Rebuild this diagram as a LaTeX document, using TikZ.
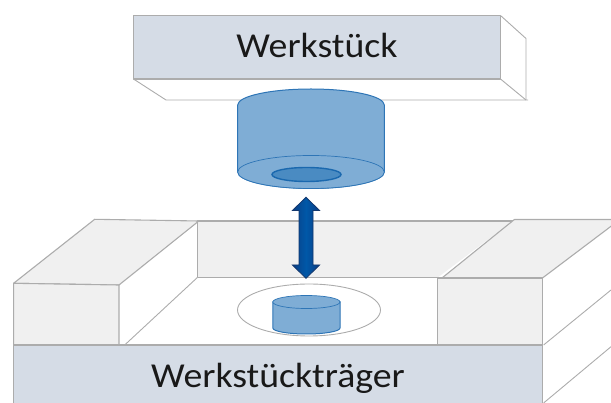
\documentclass[tikz,border=0pt]{standalone}
\usepackage{graphicx}
\usepackage{fontspec}
\setmainfont{Carlito}
\definecolor{slab}{HTML}{D5DCE6}
\definecolor{wall}{HTML}{F0F0F0}
\definecolor{edge}{HTML}{ACACAC}
\definecolor{cyl}{HTML}{7FADD5}
\definecolor{cyledge}{HTML}{2E75B6}
\definecolor{hole}{HTML}{4A8BC2}
\definecolor{holeedge}{HTML}{1A68AE}
\definecolor{arrowdark}{HTML}{0A3F86}
\definecolor{arrowmid}{HTML}{0058A8}
\definecolor{arrowedge}{HTML}{14386E}
\tikzset{
  solid part/.style={draw=edge,line width=1.1pt,line join=round},
  thin part/.style={draw=edge,line width=0.9pt},
  cyl part/.style={draw=cyledge,fill=cyl,line width=1pt},
  label text/.style={font=\fontsize{35}{38}\selectfont,text=black!90,inner sep=0pt}
}
\begin{document}
\begin{tikzpicture}[x=1pt,y=-1pt]
\useasboundingbox (0,0) rectangle (611,403);
\begin{scope}
\clip (0,0) rectangle (611,403);
% upper workpiece
\draw[thin part] (133.5,79) -- (166,100) -- (528,100);
\draw[thin part] (500.5,15.5) -- (526,38.5) -- (526,100);
\draw[thin part] (500.5,79) -- (526,100);
\draw[solid part,fill=slab] (133.5,15.5) rectangle (500.5,79);
\node[label text,anchor=base] (top label) at (317,57.5) {\scalebox{1.08}[1]{Werkstück}};
% large cylinder
\path[cyl part] (237.7,105) arc[start angle=180,end angle=360,x radius=73.3,y radius=16]
  -- (384.3,172) arc[start angle=0,end angle=-180,x radius=73.3,y radius=-16.5] -- cycle;
\draw[cyl part,line width=0.7pt] (311,172) ellipse[x radius=73.3,y radius=16.5];
\draw[draw=holeedge,fill=hole,line width=1.4pt] (306.5,174.5) ellipse[x radius=34.5,y radius=7];
% lower carrier: back wall
\fill[wall] (197.6,277.3) -- (197.6,221) -- (512.5,221) -- (438,277.3) -- cycle;
\draw[solid part] (197.6,277.3) -- (197.6,221) -- (512.5,221);
\draw[thin part] (124.7,345) -- (197.6,277.3);
% left block
\draw[solid part,fill=wall] (13.6,283.3) -- (94.7,219.3) -- (198.8,221) -- (119,285) -- cycle;
\draw[solid part,fill=wall] (13.6,283.3) -- (119,285) -- (119,345) -- (13.6,345) -- cycle;
% right block
\draw[solid part,fill=wall] (442,278) -- (514.4,219.5) -- (620,219.5) -- (542.5,278) -- cycle;
\draw[solid part,fill=wall] (437.3,278) -- (542.5,278) -- (542.5,345) -- (437.3,345) -- cycle;
\draw[thin part] (197.6,277.3) -- (442,277.3);
\draw[thin part] (543.6,345) -- (611,290);
\draw[thin part] (543.6,403) -- (611,346.7);
% seat
\draw[thin part,fill=white] (309,310) ellipse[x radius=71.5,y radius=26];
% small cylinder
\path[cyl part] (272.8,302) -- (272.8,328) arc[start angle=180,end angle=360,x radius=33.6,y radius=-6] -- (340,302) -- cycle;
\draw[cyl part,line width=0.7pt] (306.4,302) ellipse[x radius=33.6,y radius=6.5];
% motion arrow
\path[draw=arrowedge,line width=0.8pt,left color=arrowdark,right color=arrowdark,middle color=arrowmid,line join=miter]
  (306,197.3) -- (319.6,210.5) -- (313,210.5) -- (313,265) -- (319.6,265) -- (306,278.3) -- (292.4,265) -- (299,265) -- (299,210.5) -- (292.4,210.5) -- cycle;
% base slab
\draw[solid part,fill=slab] (13.6,345) rectangle (542.5,410);
\node[label text,anchor=base] (bottom label) at (278,388) {\scalebox{1.08}[1]{Werkstückträger}};
\end{scope}
\end{tikzpicture}
\end{document}
